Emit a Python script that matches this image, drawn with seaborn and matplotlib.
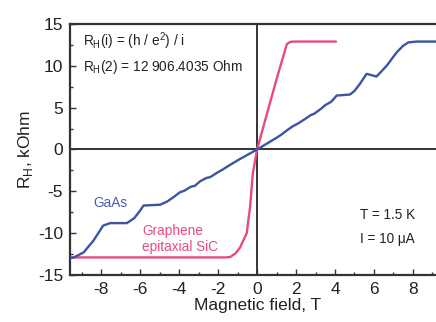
import matplotlib
matplotlib.use("Agg")
import matplotlib.pyplot as plt
import seaborn as sns
from matplotlib.ticker import MultipleLocator

# Hall resistance, kOhm vs magnetic field, T
gaas_b = [-9.6, -9.4, -8.9, -8.4, -7.9, -7.54, -6.68, -6.3, -6.0, -5.83, -4.97, -4.6, -4.29,
          -3.95, -3.75, -3.4, -3.2, -2.92, -2.6, -2.4, -2.0, -1.8, -1.5, -1.0, -0.5, 0.0, 0.5,
          1.0, 1.2, 1.6, 1.85, 2.1, 2.5, 2.75, 2.95, 3.3, 3.5, 3.8, 4.09, 4.4, 4.77, 5.0,
          5.28, 5.62, 5.85, 6.13, 6.65, 7.16, 7.5, 7.76, 8.2, 9.6]
gaas_r = [-13.0, -12.9, -12.3, -10.9, -9.1, -8.8, -8.8, -8.2, -7.3, -6.7, -6.6, -6.2, -5.7,
          -5.1, -4.95, -4.45, -4.35, -3.8, -3.4, -3.3, -2.7, -2.45, -2.0, -1.3, -0.65, 0.0, 0.7,
          1.4, 1.7, 2.4, 2.8, 3.1, 3.7, 4.1, 4.3, 4.9, 5.3, 5.7, 6.45, 6.5, 6.57, 7.0,
          7.85, 9.04, 8.9, 8.72, 10.0, 11.6, 12.4, 12.8, 12.9, 12.9]
graphene_b = [-9.6, -1.6, -1.38, -1.1, -0.87, -0.53, -0.36, -0.22, 0.0, 0.5, 1.0, 1.53,
              1.7, 1.87, 4.05]
graphene_r = [-12.9, -12.9, -12.85, -12.4, -11.7, -10.0, -6.9, -2.9, 0.0, 4.2, 8.4, 12.6,
              12.85, 12.9, 12.9]

blue = "#3b54a4"
pink = "#e84a80"
dark = "#333333"

sns.set_style("ticks")
plt.rcParams["font.family"] = ["Liberation Sans", "DejaVu Sans"]
plt.rcParams["axes.unicode_minus"] = False

fig = plt.figure(figsize=(4.36, 3.22), dpi=100)
ax = fig.add_axes([0.1606, 0.146, 0.858, 0.7795])

ax.axhline(0, color=dark, lw=1.4, zorder=1)
ax.axvline(0, color=dark, lw=1.4, zorder=1)
sns.lineplot(x=gaas_b, y=gaas_r, sort=False, color=blue, lw=1.7, ax=ax, zorder=3)
sns.lineplot(x=graphene_b, y=graphene_r, sort=False, color=pink, lw=1.7, ax=ax, zorder=2)

ax.set_xlim(-9.6, 9.6)
ax.set_ylim(-15, 15)
ax.xaxis.set_major_locator(MultipleLocator(2))
ax.xaxis.set_minor_locator(MultipleLocator(1))
ax.yaxis.set_major_locator(MultipleLocator(5))
ax.yaxis.set_minor_locator(MultipleLocator(2.5))
ax.tick_params(which="both", direction="in", color=dark, labelsize=12.5, pad=5,
               labelcolor="#222222")
ax.tick_params(which="major", length=4, width=1)
ax.tick_params(which="minor", length=2.5, width=1)
for s in ax.spines.values():
    s.set_color(dark)
    s.set_linewidth(1.6)

ax.set_xlabel("Magnetic field, T", fontsize=12.5, labelpad=1, color="#222222")
ax.set_ylabel("R$_\\mathregular{H}$, kOhm", fontsize=12.5, labelpad=2, color="#222222")

ax.text(-8.95, 12.9, "R$_\\mathregular{H}$(i) = (h / e$^\\mathregular{2}$) / i", fontsize=9.8,
        color="#222222", va="center")
ax.text(-8.95, 9.9, "R$_\\mathregular{H}$(2) = 12 906.4035 Ohm", fontsize=9.8,
        color="#222222", va="center")
ax.text(-8.4, -6.45, "GaAs", fontsize=9.8, color="#4a5cb0", va="center")
ax.text(-5.9, -9.8, "Graphene", fontsize=9.8, color=pink, va="center")
ax.text(-5.9, -11.6, "epitaxial SiC", fontsize=9.8, color=pink, va="center")
ax.text(5.3, -7.8, "T = 1.5 K", fontsize=9.8, color="#222222", va="center")
ax.text(5.3, -10.7, "I = 10 \u03bcA", fontsize=9.8, color="#222222", va="center")

fig.savefig("out.png", dpi=100)
